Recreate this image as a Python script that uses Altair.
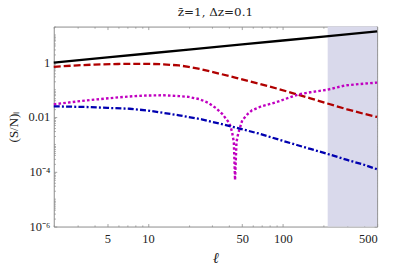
import altair as alt
import pandas as pd

# ---- data ----
ell_black = [2, 5, 10, 20, 50, 100, 200, 500]
sn_black = [0.97, 1.5, 2.08, 2.9, 4.48, 6.2, 8.65, 13.4]

ell_red = [2, 3, 4, 6, 8, 10, 13, 17, 20, 25, 34, 45, 66, 93, 127, 160, 214, 300, 400, 500]
sn_red = [0.68, 0.77, 0.82, 0.86, 0.87, 0.87, 0.84, 0.76, 0.68, 0.55, 0.38, 0.27, 0.165,
          0.105, 0.067, 0.048, 0.031, 0.019, 0.013, 0.01]

ell_mag = [2, 3, 4, 6, 8, 10, 13, 17, 20, 24, 28, 32, 35.5, 38, 39.8, 41, 42.2, 43.3, 44.2,
           45.3, 46.2, 47, 50, 55, 59, 70, 83, 93, 110, 131, 160, 214, 290, 400, 500]
sn_mag = [0.029, 0.037, 0.043, 0.052, 0.058, 0.061, 0.062, 0.058, 0.054, 0.045, 0.033, 0.021,
          0.013, 0.0085, 0.0063, 0.0045, 0.0025, 0.0012, 0.00005, 0.0012, 0.0020, 0.0028,
          0.0076, 0.013, 0.0175, 0.025, 0.031, 0.037, 0.05, 0.067, 0.08, 0.099, 0.142, 0.165, 0.18]

ell_blue = [2, 3.7, 5, 7.3, 10, 12, 17, 20, 25, 33.6, 44.5, 66, 93, 127, 160, 214, 300, 400, 500]
sn_blue = [0.0245, 0.023, 0.0215, 0.02, 0.0172, 0.015, 0.0115, 0.01, 0.0082, 0.0058, 0.0041,
           0.0025, 0.0015, 0.00095, 0.00068, 0.00045, 0.00027, 0.00018, 0.000123]

band_lo = [215]
band_hi = [500]

x_major = [5, 10, 50, 100, 500]
x_minor = [2, 3, 4, 6, 7, 8, 9, 20, 30, 40, 60, 70, 80, 90, 200, 300, 400]
y_major = [1e-6, 1e-4, 1e-2, 1]
y_minor = [m * 10.0 ** k for k in range(-6, 2) for m in range(2, 10)] + [1e-5, 1e-3, 1e-1, 10]

W, H = 325, 201
SERIF = "Times New Roman, Liberation Serif, serif"
FRAME = "#8c8c8c"
TXT = "#222222"

xs = alt.Scale(type="log", domain=[2, 500], nice=False)
ys = alt.Scale(type="log", domain=[1e-6, 20], nice=False)


def df(ell, sn):
    return pd.DataFrame({"ell": ell, "sn": sn})


def tick_axis(orient, values, size):
    return alt.Axis(orient=orient, values=values, tickSize=size, offset=-size,
                    labels=False, domain=False, grid=False, title=None,
                    tickColor=FRAME, tickWidth=0.8)


band = alt.Chart(pd.DataFrame({"lo": band_lo, "hi": band_hi})).mark_rect(
    color="#d9d9eb"
).encode(
    x=alt.X("lo:Q", scale=xs, axis=alt.Axis(
        orient="bottom", values=x_major, format="d", ticks=False, domain=False,
        grid=False, labelFont=SERIF, labelFontSize=12.5, labelColor=TXT,
        labelPadding=6, title="ℓ", titleFont=SERIF, titleFontSize=15,
        titleFontStyle="italic", titleFontWeight="normal", titlePadding=6,
        titleColor=TXT)),
    x2="hi:Q",
    y=alt.value(0),
    y2=alt.value(H),
)

y_lab = alt.Y("sn:Q", scale=ys, axis=alt.Axis(
    orient="left", values=y_major, ticks=False, domain=False, grid=False,
    labelExpr="datum.value > 0.5 ? '1' : datum.value > 0.005 ? '0.01' : datum.value > 5e-5 ? '10⁻⁴' : '10⁻⁶'",
    labelFont=SERIF, labelFontSize=12.5, labelColor=TXT, labelPadding=4,
    title="(S/N)ₗ", titleFont=SERIF, titleFontSize=13, titleFontWeight="normal",
    titlePadding=8, titleColor=TXT))

black = alt.Chart(df(ell_black, sn_black)).mark_line(color="black", strokeWidth=2.3).encode(
    x=alt.X("ell:Q", scale=xs, axis=tick_axis("bottom", x_major, 3)),
    y=alt.Y("sn:Q", scale=ys, axis=tick_axis("left", y_major, 3)),
)
red = alt.Chart(df(ell_red, sn_red)).mark_line(
    color="#b00000", strokeWidth=2.3, strokeDash=[7, 3]).encode(
    x=alt.X("ell:Q", scale=xs, axis=tick_axis("bottom", x_minor, 1.6)),
    y=alt.Y("sn:Q", scale=ys, axis=tick_axis("left", y_minor, 1.6)),
)
mag = alt.Chart(df(ell_mag, sn_mag)).mark_line(
    color="#c000c0", strokeWidth=2.4, strokeDash=[2.6, 2.2]).encode(
    x=alt.X("ell:Q", scale=xs, axis=tick_axis("top", x_major, 3)),
    y=alt.Y("sn:Q", scale=ys, axis=tick_axis("right", y_major, 3)),
)
blue = alt.Chart(df(ell_blue, sn_blue)).mark_line(
    color="#0000b0", strokeWidth=2.3, strokeDash=[6, 2.2, 2, 2.2]).encode(
    x=alt.X("ell:Q", scale=xs, axis=tick_axis("top", x_minor, 1.6)),
    y=alt.Y("sn:Q", scale=ys, axis=tick_axis("right", y_minor, 1.6)),
)
labels_layer = alt.Chart(df(ell_black, sn_black)).mark_line(opacity=0).encode(
    x=alt.X("ell:Q", scale=xs, axis=None),
    y=y_lab,
)

chart = alt.layer(band, labels_layer, black, red, mag, blue).resolve_axis(
    x="independent", y="independent"
).properties(
    width=W, height=H,
    title=alt.TitleParams("z\u0304=1, Δz=0.1", font="DejaVu Serif", fontSize=12,
                          fontWeight="normal", color=TXT, offset=7, anchor="middle"),
    autosize=alt.AutoSizeParams(type="none"),
    padding={"left": 46, "top": 18, "right": 20, "bottom": 40},
).configure_view(stroke=FRAME, strokeWidth=1)

chart.save("out.html", embed_options={"renderer": "svg", "actions": False})
